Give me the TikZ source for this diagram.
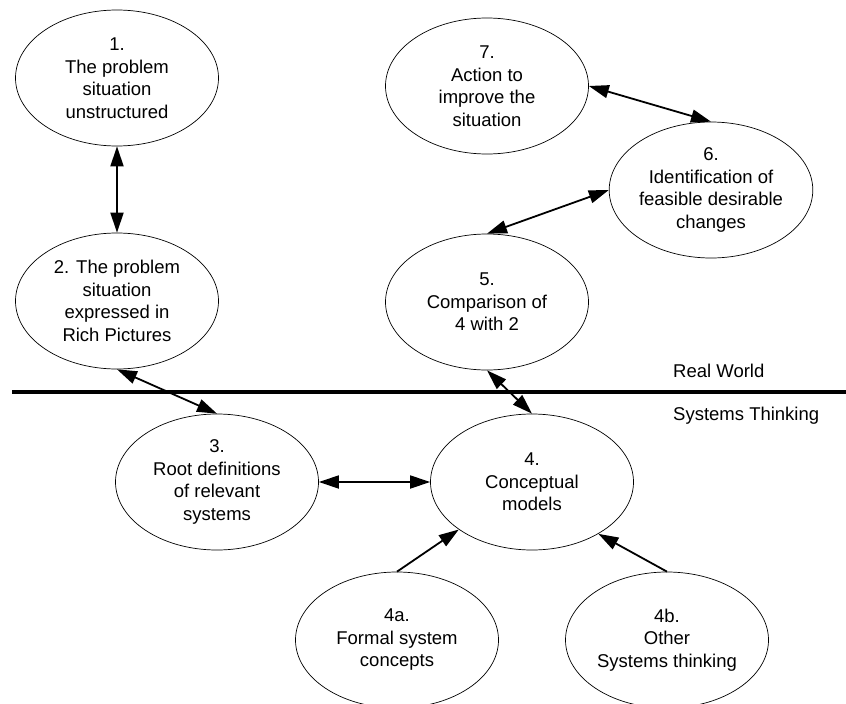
\documentclass[tikz,border=0pt]{standalone}
\usepackage{fontspec}
\setmainfont{Liberation Sans}
\usetikzlibrary{shapes.geometric,arrows.meta}
\begin{document}
\begin{tikzpicture}[x=1pt,y=-1pt,
  ell/.style={ellipse, draw, line width=0.7pt, minimum width=203pt, minimum height=136pt,
    inner sep=0pt, align=center, font=\fontsize{18.5}{22.5}\selectfont},
  lbl/.style={anchor=base west, inner sep=0pt, font=\fontsize{18.5}{22.5}\selectfont},
  tip/.tip={Triangle[length=20pt,width=13pt]},
  dbl/.style={line width=1.8pt, tip-tip},
  sgl/.style={line width=1.8pt, -tip}]
\useasboundingbox (0,0) rectangle (846,704);
\node[ell] (n1) at (117,78) {1.\\The problem\\situation\\unstructured};
\node[ell] (n2) at (117,301) {2. The problem\\situation\\expressed in\\Rich Pictures};
\node[ell] (n7) at (487,86) {7.\\Action to\\improve the\\situation};
\node[ell] (n6) at (711,190) {6.\\Identification of\\feasible desirable\\changes};
\node[ell] (n5) at (487,302) {5.\\Comparison of\\4 with 2};
\node[ell] (n3) at (217,482) {3.\\Root definitions\\of relevant\\systems};
\node[ell] (n4) at (532,482) {4.\\Conceptual\\models};
\node[ell] (n4a) at (397,640) {4a.\\Formal system\\concepts};
\node[ell] (n4b) at (667,640) {4b.\\Other\\Systems thinking};
\coordinate (rl) at (12,392);
\coordinate (rr) at (846,392);
\draw[line width=3.3pt] (rl) -- (rr);
\node[lbl] (rw) at (673,377) {Real World};
\node[lbl] (st) at (673,420) {Systems Thinking};
\draw[dbl] (n1.south) -- (n2.north);
\draw[dbl] (n7.east) -- (n6.north);
\draw[dbl] (n6.west) -- (n5.north);
\draw[dbl] (n5.south) -- (n4.north);
\draw[dbl] (n2.south) -- (n3.north);
\draw[dbl] (n3.east) -- (n4.west);
\draw[sgl] (n4a.north) -- (n4.213);
\draw[sgl] (n4b.north) -- (n4.-38);
\end{tikzpicture}
\end{document}
